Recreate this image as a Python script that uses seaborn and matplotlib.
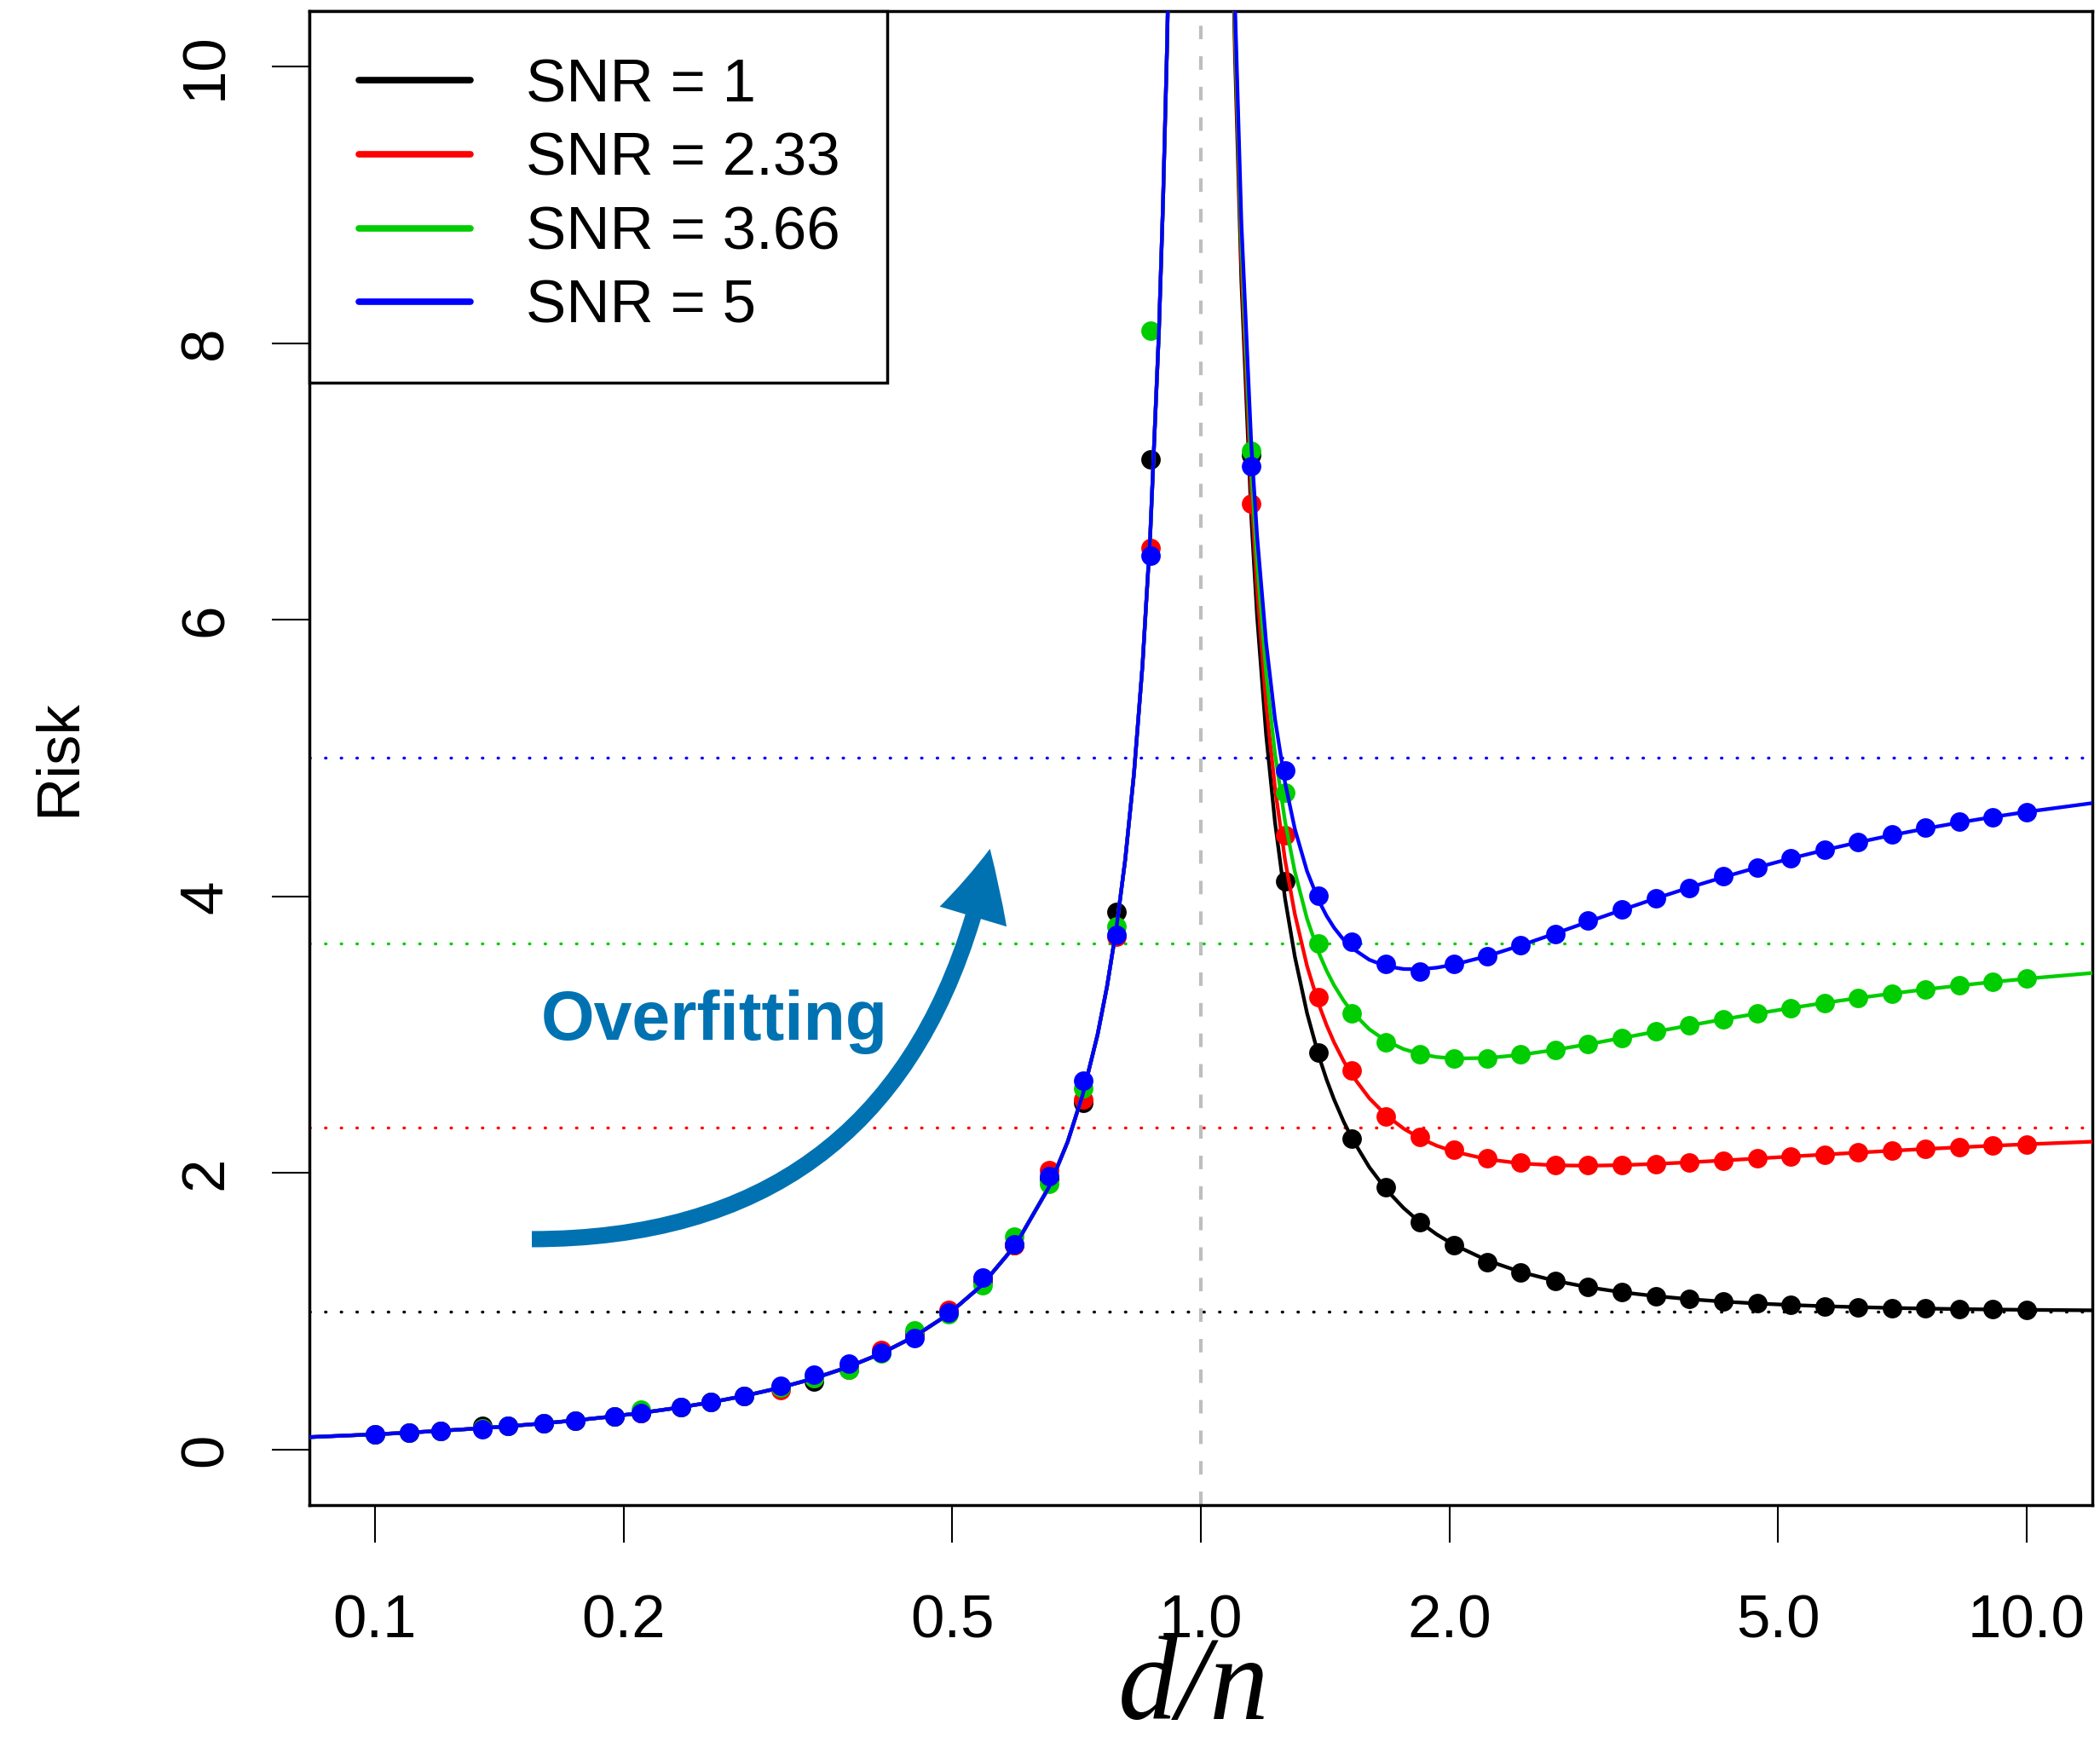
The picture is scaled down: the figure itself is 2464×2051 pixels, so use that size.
import matplotlib
matplotlib.use("Agg")
import matplotlib.pyplot as plt
import pandas as pd
import seaborn as sns
from matplotlib.lines import Line2D
from matplotlib.patches import FancyArrowPatch, ArrowStyle
from matplotlib.ticker import NullLocator
from matplotlib.legend_handler import HandlerLine2D

# ---------------- data ----------------
snr_labels = ["SNR = 1", "SNR = 2.33", "SNR = 3.66", "SNR = 5"]
snr_levels = [1.0, 2.33, 3.66, 5.0]
colors = ["#000000", "#FF0000", "#00CD00", "#0000FF"]

# smooth risk curves (left of d/n = 1 the curve is shared by all SNR values)
curve_x_left = [0.0832, 0.1, 0.11, 0.1207, 0.1326, 0.1456, 0.16, 0.1758, 0.1931, 0.2121,
                0.233, 0.256, 0.2812, 0.3089, 0.3393, 0.3728, 0.4095, 0.4498, 0.4942, 0.5429,
                0.5964, 0.6551, 0.69, 0.7197, 0.75, 0.77, 0.7906, 0.81, 0.83, 0.85,
                0.8685, 0.89, 0.90, 0.91, 0.92]
curve_y_left = [0.0908, 0.1111, 0.1236, 0.1373, 0.1529, 0.1704, 0.1905, 0.2133, 0.2393, 0.2693,
                0.3038, 0.3441, 0.3913, 0.4468, 0.5135, 0.5943, 0.6935, 0.8175, 0.9771, 1.1877,
                1.4777, 1.8994, 2.2258, 2.5676, 3.0, 3.3478, 3.7755, 4.2632, 4.8824, 5.6667,
                6.605, 8.0909, 9.0, 10.111, 11.5]

curve_x_right = [1.08, 1.10, 1.12, 1.1514, 1.17, 1.20, 1.23, 1.2649, 1.30, 1.345,
                 1.3895, 1.42, 1.45, 1.49, 1.5264, 1.60, 1.6768, 1.76, 1.8421, 1.93,
                 2.0236, 2.223, 2.4421, 2.6827, 2.9471, 3.2375, 3.5565, 3.9069, 4.2919, 4.7149,
                 5.1795, 5.6899, 6.2506, 6.8665, 7.5431, 8.2864, 9.103, 10.0, 12.0]
curve_y_right_snr1 = [12.574, 10.091, 8.4405, 6.736, 6.0277, 5.1667, 4.5348, 3.985, 3.5641, 3.1551,
                      2.8477, 2.6767, 2.5326, 2.3697, 2.2445, 2.0417, 1.8811, 1.7476, 1.6447, 1.5571,
                      1.4828, 1.3679, 1.284, 1.2215, 1.1743, 1.138, 1.11, 1.0881, 1.0708, 1.0571,
                      1.0462, 1.0375, 1.0305, 1.0249, 1.0202, 1.0165, 1.0136, 1.0111, 1.0076]
curve_y_right_snr2 = [12.673, 10.212, 8.583, 6.911, 6.2209, 5.3883, 4.7835, 4.2635, 3.871, 3.4962,
                      3.2205, 3.0701, 2.9453, 2.8071, 2.7031, 2.5404, 2.418, 2.3219, 2.2527, 2.198,
                      2.1556, 2.0996, 2.0694, 2.0558, 2.053, 2.0572, 2.0661, 2.0776, 2.0909, 2.105,
                      2.1194, 2.1337, 2.1477, 2.1612, 2.1739, 2.186, 2.1975, 2.2081, 2.2268]
curve_y_right_snr3 = [12.771, 10.333, 8.7255, 7.086, 6.4141, 5.61, 5.0322, 4.542, 4.1779, 3.8374,
                      3.5933, 3.4635, 3.358, 3.2444, 3.1618, 3.0392, 2.9548, 2.8962, 2.8607, 2.8389,
                      2.8283, 2.8313, 2.8548, 2.89, 2.9317, 2.9764, 3.0221, 3.0672, 3.111, 3.1529,
                      3.1927, 3.23, 3.2649, 3.2975, 3.3276, 3.3555, 3.3813, 3.4051, 3.4459]
curve_y_right_snr5 = [12.870, 10.455, 8.869, 7.262, 6.6089, 5.8333, 5.2828, 4.8226, 4.4872, 4.1811,
                      3.969, 3.8598, 3.7739, 3.6851, 3.624, 3.5417, 3.4957, 3.4749, 3.4733, 3.4846,
                      3.5062, 3.5685, 3.6461, 3.7305, 3.817, 3.9025, 3.9853, 4.0643, 4.1388, 4.2087,
                      4.274, 4.3345, 4.3906, 4.4424, 4.49, 4.5338, 4.5742, 4.6111, 4.674]

# simulated points
dot_x = [0.1, 0.11, 0.12, 0.135, 0.145, 0.16, 0.175, 0.195, 0.21, 0.235, 0.255, 0.28,
         0.31, 0.34, 0.375, 0.41, 0.45, 0.495, 0.545, 0.595, 0.655, 0.72, 0.79, 0.87,
         1.15, 1.265, 1.39, 1.525, 1.675, 1.84, 2.025, 2.225, 2.44, 2.685, 2.945, 3.235,
         3.555, 3.905, 4.29, 4.715, 5.18, 5.69, 6.25, 6.865, 7.545, 8.285, 9.105, 10.0]
dot_y_snr1 = [0.111, 0.124, 0.136, 0.175, 0.170, 0.190, 0.212, 0.242, 0.266, 0.307, 0.342, 0.389,
              0.449, 0.49, 0.58, 0.70, 0.84, 0.99, 1.22, 1.48, 1.96, 2.51, 3.89, 7.16,
              7.19, 4.11, 2.87, 2.247, 1.90, 1.642, 1.478, 1.357, 1.283, 1.218, 1.175, 1.138,
              1.11, 1.088, 1.071, 1.057, 1.046, 1.0375, 1.031, 1.025, 1.020, 1.0165, 1.0136, 1.011]
dot_y_snr2 = [0.111, 0.124, 0.136, 0.156, 0.170, 0.190, 0.212, 0.242, 0.266, 0.307, 0.345, 0.389,
              0.43, 0.515, 0.60, 0.72, 0.82, 1.01, 1.24, 1.48, 2.02, 2.53, 3.71, 6.52,
              6.84, 4.44, 3.27, 2.74, 2.407, 2.264, 2.169, 2.104, 2.074, 2.06, 2.058, 2.057,
              2.066, 2.078, 2.091, 2.105, 2.119, 2.134, 2.148, 2.161, 2.174, 2.186, 2.1975, 2.208]
dot_y_snr3 = [0.111, 0.124, 0.136, 0.156, 0.170, 0.190, 0.212, 0.242, 0.29, 0.307, 0.342, 0.389,
              0.449, 0.515, 0.58, 0.695, 0.86, 0.98, 1.19, 1.54, 1.92, 2.61, 3.78, 8.09,
              7.22, 4.75, 3.66, 3.155, 2.947, 2.861, 2.826, 2.83, 2.86, 2.89, 2.932, 2.976,
              3.022, 3.067, 3.111, 3.153, 3.193, 3.23, 3.265, 3.2975, 3.328, 3.3555, 3.381, 3.405]
dot_y_snr5 = [0.111, 0.124, 0.136, 0.15, 0.170, 0.190, 0.212, 0.242, 0.266, 0.307, 0.342, 0.389,
              0.46, 0.54, 0.62, 0.70, 0.81, 0.99, 1.245, 1.485, 1.98, 2.666, 3.72, 6.46,
              7.11, 4.91, 4.006, 3.673, 3.509, 3.457, 3.509, 3.565, 3.648, 3.725, 3.824, 3.906,
              3.985, 4.062, 4.144, 4.209, 4.274, 4.339, 4.395, 4.451, 4.498, 4.538, 4.572, 4.611]

x_ticks = [0.1, 0.2, 0.5, 1.0, 2.0, 5.0, 10.0]
x_tick_labels = ["0.1", "0.2", "0.5", "1.0", "2.0", "5.0", "10.0"]
y_ticks = [0, 2, 4, 6, 8, 10]
y_tick_labels = ["0", "2", "4", "6", "8", "10"]

arrow_tail = (0.1549, 1.522)
arrow_tip = (0.5556, 4.344)
annot_text = "Overfitting"
annot_pos = (0.2577, 2.964)
annot_color = "#0072B2"

# ---------------- style ----------------
sns.set_style("white")
plt.rcParams["font.family"] = ["Liberation Sans", "DejaVu Sans"]
plt.rcParams["text.color"] = "black"
plt.rcParams["axes.labelcolor"] = "black"
plt.rcParams["xtick.color"] = "black"
plt.rcParams["ytick.color"] = "black"

fig = plt.figure(figsize=(24.64, 20.51), dpi=100)
ax = fig.add_axes([0.1473, 0.1390, 0.84905, 0.85466])
ax.set_xscale("log")

right_curves = [curve_y_right_snr1, curve_y_right_snr2, curve_y_right_snr3, curve_y_right_snr5]
dot_series = [dot_y_snr1, dot_y_snr2, dot_y_snr3, dot_y_snr5]

# reference levels
for lvl, c in zip(snr_levels, colors):
    ax.axhline(lvl, color=c, lw=2.5, linestyle=(0, (0.2, 5.1)),
               dash_capstyle="round", zorder=2)
ax.axvline(1.0, color="#BEBEBE", lw=3, linestyle=(0, (3.8, 4.8)),
           dash_capstyle="butt", zorder=2)

for i, (lab, c, yr, yd) in enumerate(zip(snr_labels, colors, right_curves, dot_series)):
    df_curve = pd.DataFrame({
        "x": curve_x_left + curve_x_right,
        "risk": curve_y_left + yr,
        "part": ["left"] * len(curve_x_left) + ["right"] * len(curve_x_right),
    })
    sns.lineplot(data=df_curve, x="x", y="risk", units="part", estimator=None,
                 sort=False, color=c, lw=3.1, ax=ax, zorder=3 + 2 * i, legend=False)
    df_dots = pd.DataFrame({"x": dot_x, "risk": yd})
    sns.scatterplot(data=df_dots, x="x", y="risk", color=c, s=270, linewidth=0,
                    ax=ax, zorder=4 + 2 * i, legend=False)

ax.set_xlim(0.0833, 12.01)
ax.set_ylim(-0.4, 10.4)
ax.set_xticks(x_ticks)
ax.set_xticklabels(x_tick_labels)
ax.xaxis.set_minor_locator(NullLocator())
ax.set_yticks(y_ticks)
ax.set_yticklabels(y_tick_labels, rotation=90, va="center")

ax.tick_params(axis="both", which="major", direction="out", length=32, width=1.5,
               color="black", labelsize=51, labelcolor="black", left=True, bottom=True)
ax.tick_params(axis="x", pad=43)
ax.tick_params(axis="y", pad=31)
for sp in ax.spines.values():
    sp.set_visible(True)
    sp.set_color("black")
    sp.set_linewidth(2.5)

ax.set_ylabel("Risk", fontsize=51, color="black")
ax.yaxis.label.set_va("baseline")
ax.yaxis.set_label_coords(-0.1315, 0.5)
ax.set_xlabel("d/n", fontsize=100, color="black", family=["Liberation Serif", "DejaVu Serif"],
              style="italic")
ax.xaxis.label.set_va("baseline")
ax.xaxis.set_label_coords(0.496, -0.1435)

# annotation
arrow = FancyArrowPatch(posA=arrow_tail, posB=arrow_tip,
                        connectionstyle="angle3,angleA=0,angleB=78.6",
                        arrowstyle=ArrowStyle.Simple(head_length=0.59, head_width=0.59, tail_width=0.137),
                        mutation_scale=100, color=annot_color, lw=0,
                        shrinkA=0, shrinkB=0, zorder=20)
ax.add_patch(arrow)
ax.text(annot_pos[0], annot_pos[1], annot_text, color=annot_color, fontsize=58,
        fontweight="bold", ha="center", va="baseline", zorder=21)

handles = [Line2D([0], [0], color=c, lw=5.5, solid_capstyle="round") for c in colors]
leg = ax.legend(handles, snr_labels, loc="upper left", bbox_to_anchor=(0, 1),
                borderaxespad=0, frameon=True, fancybox=False, edgecolor="black",
                framealpha=1, facecolor="white", fontsize=51, handlelength=1.93,
                handletextpad=0.88, borderpad=0.78, labelspacing=0.29,
                handler_map={Line2D: HandlerLine2D(marker_pad=0.04, numpoints=2)})
leg.get_frame().set_linewidth(2.5)
leg.set_zorder(30)
for t in leg.get_texts():
    t.set_color("black")

fig.savefig("out.png", dpi=100)
